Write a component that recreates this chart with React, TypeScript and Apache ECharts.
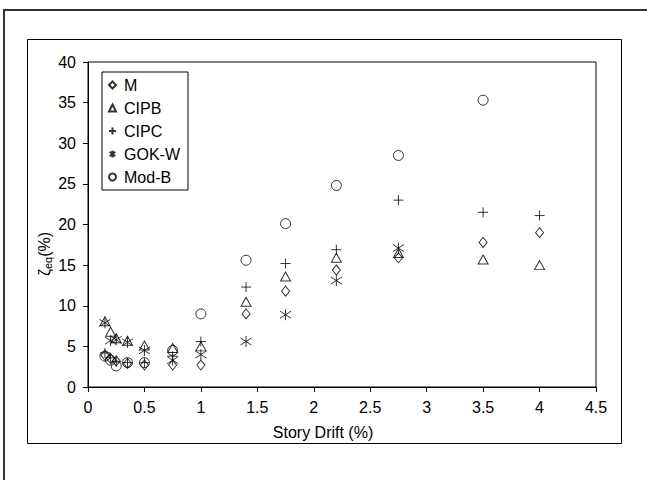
import React, { useEffect, useRef } from "react";
import * as echarts from "echarts";

const seriesNames = ["M", "CIPB", "CIPC", "GOK-W", "Mod-B"];

const driftM = [0.15, 0.2, 0.25, 0.35, 0.5, 0.75, 1, 1.4, 1.75, 2.2, 2.75, 3.5, 4];
const zetaM = [3.9, 3.5, 3.2, 2.9, 2.7, 2.7, 2.7, 9.0, 11.8, 14.4, 15.9, 17.8, 19.0];

const driftCIPB = [0.15, 0.2, 0.25, 0.35, 0.5, 0.75, 1, 1.4, 1.75, 2.2, 2.75, 3.5, 4];
const zetaCIPB = [8.1, 6.8, 6.0, 5.7, 5.1, 4.8, 5.0, 10.5, 13.6, 15.9, 16.5, 15.7, 15.0];

const driftCIPC = [0.15, 0.2, 0.25, 0.35, 0.5, 0.75, 1, 1.4, 1.75, 2.2, 2.75, 3.5, 4];
const zetaCIPC = [4.2, 3.6, 3.1, 3.0, 3.0, 3.8, 5.6, 12.3, 15.2, 16.9, 23.0, 21.5, 21.1];

const driftGOKW = [0.15, 0.2, 0.25, 0.35, 0.5, 0.75, 1, 1.4, 1.75, 2.2, 2.75];
const zetaGOKW = [7.9, 5.7, 5.8, 5.5, 4.5, 3.3, 4.0, 5.6, 8.9, 13.1, 17.1];

const driftModB = [0.15, 0.2, 0.25, 0.35, 0.5, 0.75, 1, 1.4, 1.75, 2.2, 2.75, 3.5];
const zetaModB = [3.8, 3.3, 2.6, 3.0, 3.0, 4.5, 9.0, 15.6, 20.1, 24.8, 28.5, 35.3];

const xTicks = [0, 0.5, 1, 1.5, 2, 2.5, 3, 3.5, 4, 4.5];
const yTicks = [0, 5, 10, 15, 20, 25, 30, 35, 40];

const PLUS = "path://M5 0L5 10M0 5L10 5";
const ASTER = "path://M5 0L5 10M1 1.8L9 8.2M1 8.2L9 1.8";

const symbols = ["diamond", "triangle", PLUS, ASTER, "circle"];
const sizes: any[] = [[8, 10], [10, 9], 10, 11, 10];

const FONT = "Liberation Sans, Arial, sans-serif";

export default function App() {
  const ref = useRef<HTMLDivElement>(null);
  useEffect(() => {
    if (!ref.current) return;
    const chart = echarts.init(ref.current, undefined, { renderer: "svg" });
    const xs = [driftM, driftCIPB, driftCIPC, driftGOKW, driftModB];
    const ys = [zetaM, zetaCIPB, zetaCIPC, zetaGOKW, zetaModB];
    const series = seriesNames.map((name, i) => ({
      name,
      type: "scatter",
      symbol: symbols[i],
      symbolSize: sizes[i],
      data: xs[i].map((x, j) => [x, ys[i][j]]),
      itemStyle: { color: "rgba(0,0,0,0)", borderColor: "#000", borderWidth: 1 },
      emphasis: { disabled: true },
    }));
    chart.setOption({
      animation: false,
      backgroundColor: "#fff",
      textStyle: { fontFamily: FONT },
      grid: {
        left: 88,
        top: 62,
        width: 508,
        height: 325,
        show: true,
        borderColor: "#000",
        borderWidth: 1,
        backgroundColor: "transparent",
      },
      xAxis: {
        type: "value",
        min: 0,
        max: 4.5,
        interval: 0.5,
        splitLine: { show: false },
        axisLine: { show: true, onZero: false, lineStyle: { color: "#000", width: 1 } },
        axisTick: { show: true, inside: false, length: 5, lineStyle: { color: "#000" } },
        axisLabel: {
          color: "#000",
          fontSize: 16,
          fontFamily: FONT,
          margin: 12,
          formatter: (v: number) => (xTicks.includes(v) ? String(v) : ""),
        },
      },
      yAxis: {
        type: "value",
        min: 0,
        max: 40,
        interval: 5,
        splitLine: { show: false },
        axisLine: { show: true, onZero: false, lineStyle: { color: "#000", width: 1 } },
        axisTick: { show: true, inside: false, length: 5, lineStyle: { color: "#000" } },
        axisLabel: {
          color: "#000",
          fontSize: 16,
          fontFamily: FONT,
          margin: 12,
          formatter: (v: number) => (yTicks.includes(v) ? String(v) : ""),
        },
      },
      legend: {
        show: true,
        orient: "vertical",
        left: 102,
        top: 72,
        padding: [5, 8, 5, 6],
        itemGap: 7,
        itemWidth: 7,
        itemHeight: 7,
        borderColor: "#000",
        borderWidth: 1,
        backgroundColor: "#fff",
        selectedMode: false,
        textStyle: { color: "#000", fontSize: 16, fontFamily: FONT, padding: [0, 0, 0, 3] },
        data: seriesNames,
      },
      graphic: [
        {
          type: "rect",
          shape: { x: 4, y: 10, width: 700, height: 600 },
          style: { fill: "none", stroke: "#333", lineWidth: 2 },
          silent: true,
          z: -10,
        },
        {
          type: "rect",
          shape: { x: 27.5, y: 39.5, width: 594, height: 404 },
          style: { fill: "none", stroke: "#000", lineWidth: 1 },
          silent: true,
          z: -10,
        },
        {
          type: "text",
          x: 323,
          y: 432,
          style: {
            text: "Story Drift (%)",
            fill: "#000",
            font: `16px ${FONT}`,
            textAlign: "center",
            textVerticalAlign: "middle",
          },
          silent: true,
        },
        {
          type: "text",
          x: 44,
          y: 254,
          rotation: Math.PI / 2,
          style: {
            text: "{a|ζ}{s|eq}{a|(%)}",
            textAlign: "center",
            textVerticalAlign: "middle",
            rich: {
              a: { fontSize: 16, fontFamily: FONT, fill: "#000", color: "#000" },
              s: { fontSize: 11, fontFamily: FONT, fill: "#000", color: "#000", padding: [8, 0, 0, 0] },
            },
          },
          silent: true,
        },
      ],
      series,
    });
    return () => chart.dispose();
  }, []);
  return (
    <div
      ref={ref}
      style={{ position: "fixed", left: 0, top: 0, width: 647, height: 480 }}
    />
  );
}
